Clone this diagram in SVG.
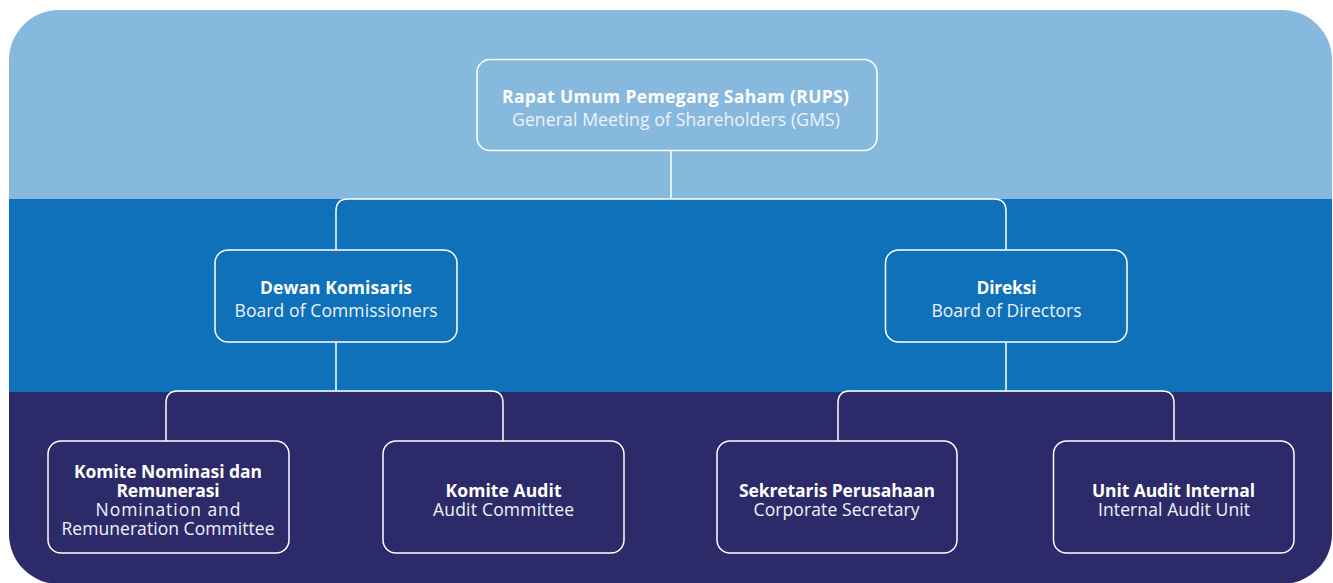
<svg xmlns="http://www.w3.org/2000/svg" width="1333" height="583" viewBox="0 0 1333 583">
<defs>
<clipPath id="bg"><rect x="9" y="10" width="1323" height="574" rx="50" ry="50"/></clipPath>
<style>
.box{stroke:#ffffff;stroke-width:1.5;}
.conn{fill:none;stroke:#ffffff;stroke-width:1.5;}
.b{font-family:"Open Sans","Liberation Sans",sans-serif;font-weight:700;fill:#ffffff;text-anchor:middle;}
.r{font-family:"Open Sans","Liberation Sans",sans-serif;font-weight:400;fill:#eef3f9;text-anchor:middle;}
.l{font-size:17.5px;}
.s{font-size:17.5px;}
</style>
</defs>
<g id="background" clip-path="url(#bg)">
<rect x="0" y="0" width="1333" height="199" fill="#87B8DE"/>
<rect x="0" y="199" width="1333" height="193" fill="#0E71B9"/>
<rect x="0" y="392" width="1333" height="200" fill="#2D2A69"/>
</g>
<g id="connectors">
<path class="conn" d="M671 151 V199 M336 250 V211 Q336 199 348 199 H994 Q1006 199 1006 211 V250"/>
<path class="conn" d="M336 342 V391 M166 441 V403 Q166 391 178 391 H491 Q503 391 503 403 V441"/>
<path class="conn" d="M1006 342 V391 M838 441 V403 Q838 391 850 391 H1162 Q1174 391 1174 403 V441"/>
</g>
<g id="rups">
<rect class="box" x="477" y="59.5" width="400" height="91" rx="13" fill="#87B8DE"/>
<text class="b l" x="675.5" y="103" textLength="347" lengthAdjust="spacing">Rapat Umum Pemegang Saham (RUPS)</text>
<text class="r l" x="676" y="126" textLength="328" lengthAdjust="spacing">General Meeting of Shareholders (GMS)</text>
</g>
<g id="dewan-komisaris">
<rect class="box" x="215" y="250" width="242" height="92" rx="13" fill="#0E71B9"/>
<text class="b l" x="336" y="294" textLength="152" lengthAdjust="spacing">Dewan Komisaris</text>
<text class="r l" x="336" y="317" textLength="203" lengthAdjust="spacing">Board of Commissioners</text>
</g>
<g id="direksi">
<rect class="box" x="885.5" y="250" width="241.5" height="92" rx="13" fill="#0E71B9"/>
<text class="b l" x="1006.5" y="294" textLength="60" lengthAdjust="spacing">Direksi</text>
<text class="r l" x="1006.5" y="317" textLength="150" lengthAdjust="spacing">Board of Directors</text>
</g>
<g id="komite-nominasi">
<rect class="box" x="48" y="441" width="241" height="112" rx="13" fill="#2D2A69"/>
<text class="b s" x="168" y="478" textLength="188" lengthAdjust="spacing">Komite Nominasi dan</text>
<text class="b s" x="168" y="497" textLength="103" lengthAdjust="spacing">Remunerasi</text>
<text class="r s" x="168" y="516" textLength="145" lengthAdjust="spacing">Nomination and</text>
<text class="r s" x="168" y="535" textLength="213" lengthAdjust="spacing">Remuneration Committee</text>
</g>
<g id="komite-audit">
<rect class="box" x="383" y="441" width="241" height="112" rx="13" fill="#2D2A69"/>
<text class="b s" x="503.5" y="497" textLength="116" lengthAdjust="spacing">Komite Audit</text>
<text class="r s" x="503.5" y="516" textLength="141" lengthAdjust="spacing">Audit Committee</text>
</g>
<g id="sekretaris">
<rect class="box" x="717" y="441" width="240" height="112" rx="13" fill="#2D2A69"/>
<text class="b s" x="837" y="497" textLength="196" lengthAdjust="spacing">Sekretaris Perusahaan</text>
<text class="r s" x="836.5" y="516" textLength="166" lengthAdjust="spacing">Corporate Secretary</text>
</g>
<g id="unit-audit">
<rect class="box" x="1053.5" y="441" width="240.5" height="112" rx="13" fill="#2D2A69"/>
<text class="b s" x="1173.5" y="497" textLength="163" lengthAdjust="spacing">Unit Audit Internal</text>
<text class="r s" x="1174" y="516" textLength="152" lengthAdjust="spacing">Internal Audit Unit</text>
</g>
</svg>
